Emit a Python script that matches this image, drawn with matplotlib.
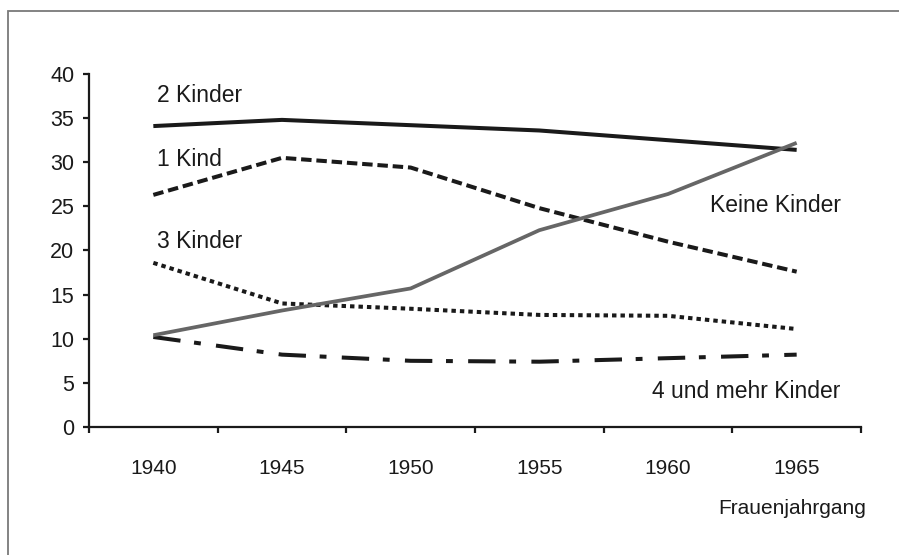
import matplotlib
matplotlib.use("Agg")
import matplotlib.pyplot as plt
from matplotlib.patches import Rectangle

plt.rcParams['font.family'] = ['Liberation Sans', 'DejaVu Sans']

years = ["1940", "1945", "1950", "1955", "1960", "1965"]
zwei_kinder = [34.1, 34.8, 34.2, 33.6, 32.5, 31.4]
ein_kind = [26.3, 30.5, 29.4, 24.8, 21.0, 17.6]
drei_kinder = [18.6, 14.0, 13.4, 12.7, 12.6, 11.1]
vier_mehr = [10.2, 8.2, 7.5, 7.4, 7.8, 8.2]
keine_kinder = [10.4, 13.2, 15.7, 22.3, 26.4, 32.2]
y_ticks = [0, 5, 10, 15, 20, 25, 30, 35, 40]

W, H = 899, 555
fig = plt.figure(figsize=(W / 100, H / 100), dpi=100)
# frame of the original graphic (cropped at right and bottom)
fig.patches.append(Rectangle((8 / W, -0.05), 1.2, 1 - 11 / H + 0.05,
                             transform=fig.transFigure, fill=False,
                             edgecolor='#7a7a7a', linewidth=1.3))

ax = fig.add_axes([89 / W, (H - 427) / H, (861 - 89) / W, (427 - 74) / H])
x = list(range(len(years)))

tc = '#1a1a1a'
ax.plot(x, zwei_kinder, color=tc, lw=2.9, solid_capstyle='butt')
ax.plot(x, ein_kind, color=tc, lw=2.9, linestyle=(0, (2.6, 1.2)), dash_capstyle='butt')
ax.plot(x, drei_kinder, color=tc, lw=2.9, linestyle=(0, (1.1, 1.0)), dash_capstyle='butt')
ax.plot(x, vier_mehr, color=tc, lw=2.9, linestyle=(0, (6.8, 3.4, 1.7, 3.8)), dash_capstyle='butt')
ax.plot(x, keine_kinder, color='#666666', lw=2.7, solid_capstyle='butt')

ax.set_xlim(-0.5, len(years) - 0.5)
ax.set_ylim(0, 40)
ax.set_yticks(y_ticks)
ax.set_yticklabels([str(v) for v in y_ticks])
ax.set_xticks([i - 0.5 for i in range(len(years) + 1)])
ax.set_xticklabels([''] * (len(years) + 1))
ax.set_xticks(x, minor=True)
ax.set_xticklabels(years, minor=True)
ax.tick_params(axis='x', which='minor', length=0, pad=23, labelsize=15, colors=tc)
ax.tick_params(axis='x', which='major', length=4.5, width=1.6, direction='out', color=tc)
ax.tick_params(axis='y', length=4.5, width=1.6, direction='out', pad=6, labelsize=15.5,
               color=tc, labelcolor=tc)
for s in ['top', 'right']:
    ax.spines[s].set_visible(False)
for s in ['left', 'bottom']:
    ax.spines[s].set_linewidth(1.6)
    ax.spines[s].set_color(tc)

def label(px, py, s, size=16.5):
    fig.text(px / W, 1 - py / H, s, fontsize=size, color=tc, ha='left', va='baseline')

label(157, 102, "2 Kinder")
label(157, 166, "1 Kind")
label(157, 248, "3 Kinder")
label(710, 212, "Keine Kinder")
label(652, 398, "4 und mehr Kinder")
fig.text(866 / W, 1 - 514 / H, "Frauenjahrgang", fontsize=15, color=tc, ha='right', va='baseline')

fig.savefig("out.png", dpi=100, facecolor='white')
